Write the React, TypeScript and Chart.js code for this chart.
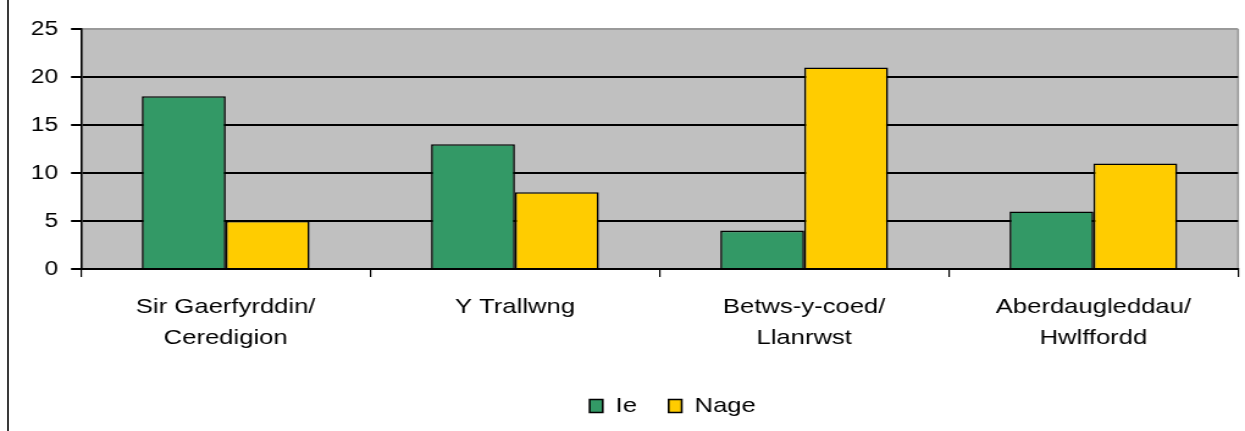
import React, { useEffect, useRef } from "react";
import { Chart, registerables } from "chart.js";

Chart.register(...registerables);

const CATEGORIES: string[][] = [
  ["Sir Gaerfyrddin/", "Ceredigion"],
  ["Y Trallwng"],
  ["Betws-y-coed/", "Llanrwst"],
  ["Aberdaugleddau/", "Hwlffordd"],
];
const SERIES_NAMES = ["Ie", "Nage"];
const IE_VALUES = [18, 13, 4, 6];
const NAGE_VALUES = [5, 8, 21, 11];
const Y_MIN = 0;
const Y_MAX = 25;
const Y_STEP = 5;

const GREEN = "#339966";
const YELLOW = "#FFCC00";
const PLOT_BG = "#C0C0C0";
const TEXT = "#000";
const FONT = "'Liberation Sans', Arial, Helvetica, sans-serif";

const FULL_W = 1245;
const FULL_H = 431;
const INNER_W = 1020;
const SX = FULL_W / INNER_W;

const plotBg = {
  id: "plotBg",
  beforeDraw(chart: any) {
    const { ctx, chartArea } = chart;
    if (!chartArea) return;
    ctx.save();
    ctx.fillStyle = PLOT_BG;
    ctx.fillRect(chartArea.left, chartArea.top, chartArea.right - chartArea.left, chartArea.bottom - chartArea.top);
    ctx.strokeStyle = "#9a9a9a";
    ctx.lineWidth = 1.6;
    ctx.beginPath();
    ctx.moveTo(chartArea.right, chartArea.top);
    ctx.lineTo(chartArea.right, chartArea.bottom);
    ctx.stroke();
    ctx.restore();
  },
};

const legendShift = {
  id: "legendShift",
  afterLayout(chart: any) {
    const l = chart.legend;
    if (!l) return;
    const d = 44;
    l.left += d;
    l.right += d;
  },
};

export default function App() {
  const ref = useRef<HTMLCanvasElement | null>(null);

  useEffect(() => {
    if (!ref.current) return;
    const chart = new Chart(ref.current, {
      type: "bar",
      data: {
        labels: CATEGORIES,
        datasets: [
          {
            label: SERIES_NAMES[0],
            data: IE_VALUES,
            backgroundColor: GREEN,
            borderColor: "#000",
            borderWidth: 1.6,
            categoryPercentage: 0.58,
            barPercentage: 1,
          },
          {
            label: SERIES_NAMES[1],
            data: NAGE_VALUES,
            backgroundColor: YELLOW,
            borderColor: "#000",
            borderWidth: 1.6,
            categoryPercentage: 0.58,
            barPercentage: 1,
          },
        ],
      },
      options: {
        animation: false,
        responsive: true,
        maintainAspectRatio: false,
        layout: { padding: { left: 0, right: 5.7, top: 29, bottom: 4.5 } },
        plugins: {
          tooltip: { enabled: false },
          legend: {
            position: "bottom",
            labels: {
              boxWidth: 10.7,
              boxHeight: 13,
              padding: 26,
              color: TEXT,
              font: { family: FONT, size: 21 },
            },
          },
        },
        scales: {
          x: {
            offset: true,
            afterFit(scale: any) {
              scale.height = 100.5;
            },
            grid: {
              display: true,
              offset: true,
              drawOnChartArea: false,
              drawTicks: true,
              tickLength: 8,
              color: "#000",
              lineWidth: 1.2,
            },
            border: { display: true, color: "#000", width: 2 },
            ticks: {
              color: TEXT,
              maxRotation: 0,
              autoSkip: false,
              padding: 14,
              font: { family: FONT, size: 21, lineHeight: 1.5 },
            },
          },
          y: {
            min: Y_MIN,
            max: Y_MAX,
            afterFit(scale: any) {
              scale.width = 66.4;
            },
            grid: {
              color: (c: any) => (c.tick && c.tick.value === Y_MAX ? "#9a9a9a" : "#000"),
              lineWidth: 2,
              tickLength: 8.2,
              tickColor: "#000",
            },
            border: { display: true, color: "#000", width: 1.6 },
            ticks: {
              stepSize: Y_STEP,
              color: TEXT,
              padding: 10.7,
              font: { family: FONT, size: 20 },
            },
          },
        },
      },
      plugins: [plotBg, legendShift],
    });
    return () => chart.destroy();
  }, []);

  return (
    <div
      style={{
        position: "fixed",
        left: 0,
        top: 0,
        width: FULL_W,
        height: FULL_H,
        background: "#fff",
        overflow: "hidden",
      }}
    >
      <div
        style={{
          position: "absolute",
          left: 0,
          top: 0,
          width: INNER_W,
          height: FULL_H,
          transform: `scaleX(${SX})`,
          transformOrigin: "0 0",
        }}
      >
        <canvas ref={ref} />
      </div>
      <div
        style={{
          position: "absolute",
          left: 7,
          top: 0,
          width: 2,
          height: FULL_H,
          background: "#3a3a3a",
        }}
      />
    </div>
  );
}
